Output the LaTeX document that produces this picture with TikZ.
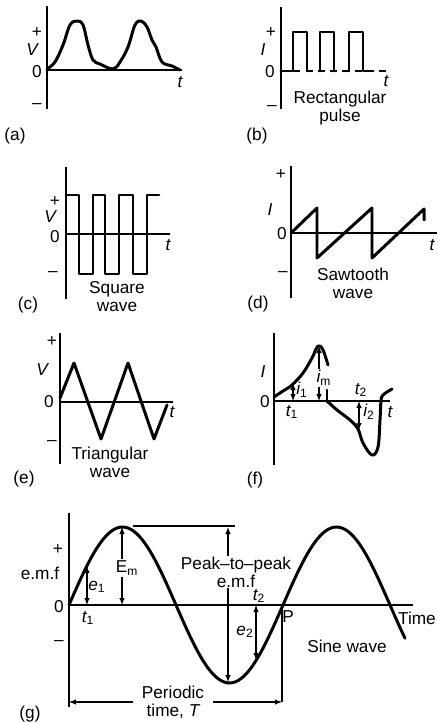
\documentclass[tikz,border=0pt]{standalone}
\usepackage{fontspec}
\setmainfont{Liberation Sans}
\usetikzlibrary{arrows.meta}

\begin{document}
\begin{tikzpicture}[
    x=0.02cm, y=-0.02cm,
    axis/.style={line width=1.1pt},
    wave/.style={line width=1.7pt, line join=round, line cap=round},
    dim/.style={{Latex[length=1.4mm,width=1.1mm]}-{Latex[length=1.4mm,width=1.1mm]}, line width=0.6pt},
    lbl/.style={inner sep=0pt, font=\fontsize{9.8}{11}\selectfont},
    wavename/.style={lbl, align=center, font=\fontsize{9.8}{10.2}\selectfont},
]
\useasboundingbox (0,0) rectangle (438,723);

% (a) general waveform
\draw[axis] (47,6) -- (47,109);
\draw[axis] (47,70) -- (182,70);
\node[lbl] (plusa) at (37,33) {+};
\node[lbl] (va) at (32,50) {\itshape V};
\node[lbl] (zeroa) at (37,72) {0};
\node[lbl] (minusa) at (37,106) {--};
\node[lbl] (ta) at (180,82) {\itshape t};
\node[lbl] (capa) at (15,136) {(a)};
\draw[wave] plot[smooth, tension=0.6] coordinates {(47,69) (55,62) (63,45) (70,25) (77,21) (83,25) (88,45) (93,60) (100,64) (113,69) (120,62) (128,47) (135,25) (141,21) (147,27) (152,40) (156,47) (162,62) (172,66) (180,70)};

% (b) rectangular pulse
\draw[axis] (281,7) -- (281,109);
\draw[axis, dash pattern=on 4pt off 3pt] (281,71) -- (391,71);
\node[lbl] (plusb) at (271,33) {+};
\node[lbl] (ib) at (263,50) {\itshape I};
\node[lbl] (zerob) at (270,72) {0};
\node[lbl] (minusb) at (272,108) {--};
\node[lbl] (tb) at (386,81) {\itshape t};
\node[wavename] (nameb) at (340,108) {Rectangular\\pulse};
\node[lbl] (capb) at (257,136) {(b)};
\draw[wave] (281,71) -- (293,71) -- (293,32) -- (307,32) -- (307,71);
\draw[wave] (320,71) -- (320,32) -- (334,32) -- (334,71);
\draw[wave] (349,71) -- (349,32) -- (363,32) -- (363,71) -- (373,71);

% (c) square wave
\draw[axis] (66,167) -- (66,299);
\draw[axis] (66,234) -- (170,234);
\node[lbl] (plusc) at (55,202) {+};
\node[lbl] (vc) at (50,217) {\itshape V};
\node[lbl] (zeroc) at (55,237) {0};
\node[lbl] (minusc) at (53,274) {--};
\node[lbl] (tc) at (168,245) {\itshape t};
\node[wavename] (namec) at (117,297) {Square\\wave};
\node[lbl] (capc) at (28,305) {(c)};
\draw[wave] (66,195) -- (79,195) -- (79,274) -- (93,274) -- (93,195) -- (105,195) -- (105,274) -- (119,274) -- (119,195) -- (133,195) -- (133,274) -- (147,274) -- (147,195) -- (159,195);

% (d) sawtooth wave
\draw[axis] (291,166) -- (291,298);
\draw[axis] (291,233) -- (437,233);
\node[lbl] (plusd) at (281,175) {+};
\node[lbl] (id) at (270,210) {\itshape I};
\node[lbl] (zerod) at (282,234) {0};
\node[lbl] (minusd) at (283,274) {--};
\node[lbl] (td) at (432,245) {\itshape t};
\node[wavename] (named) at (353,283) {Sawtooth\\wave};
\node[lbl] (capd) at (258,304) {(d)};
\draw[wave] (291,233) -- (317,208) -- (317,258) -- (372,208) -- (372,258) -- (424,209) -- (424,220);

% (e) triangular wave
\draw[axis] (60,333) -- (60,464);
\draw[axis] (60,402) -- (173,402);
\node[lbl] (pluse) at (52,342) {+};
\node[lbl] (ve) at (42,370) {\itshape V};
\node[lbl] (zeroe) at (49,402) {0};
\node[lbl] (minuse) at (52,443) {--};
\node[lbl] (te) at (172,412) {\itshape t};
\node[wavename] (namee) at (110,462) {Triangular\\wave};
\node[lbl] (cape) at (24,479) {(e)};
\draw[wave] (60,398) -- (74,363) -- (101,439) -- (128,363) -- (154,439) -- (167,405);

% (f) complex waveform
\draw[axis] (274,333) -- (274,465);
\draw[axis] (274,401) -- (390,401);
\node[lbl] (if) at (263,372) {\itshape I};
\node[lbl] (zerof) at (265,402) {0};
\node[lbl] (tf) at (390,412) {\itshape t};
\node[lbl] (capf) at (255,480) {(f)};
\coordinate (t1f) at (293,401);
\coordinate (c1f) at (293,383);
\coordinate (tmf) at (319,401);
\coordinate (cmf) at (319,346);
\coordinate (t2f) at (359,401);
\coordinate (c2f) at (359,430);
\draw[dim] (t1f) -- (c1f);
\draw[dim] (tmf) -- (cmf);
\draw[dim] (t2f) -- (c2f);
\node[lbl] (i1f) at (302,390) {\itshape i\textsubscript{\upshape 1}};
\node[lbl, fill=white, inner sep=1pt] (imf) at (324,378) {\itshape i\textsubscript{\upshape m}};
\node[lbl, fill=white, inner sep=1pt] (i2f) at (369,412) {\itshape i\textsubscript{\upshape 2}};
\node[lbl] (t1lf) at (292,412) {\itshape t\textsubscript{\upshape 1}};
\node[lbl] (t2lf) at (361,390) {\itshape t\textsubscript{\upshape 2}};
\draw[wave] plot[smooth, tension=0.6] coordinates {(274,397) (283,391) (292,385) (303,373) (312,358) (318,346) (323,350) (328,365)};
\draw[wave] (327,390) -- (327,401);
\draw[wave] plot[smooth, tension=0.6] coordinates {(327,401) (337,410) (350,420) (358,429) (363,443) (372,455) (378,447) (380,420) (381,401) (383,395) (392,389)};

% (g) sine wave
\draw[axis] (69,513) -- (69,707);
\draw[axis] (69,605) -- (413,605);
\node[lbl] (plusg) at (58,550) {+};
\node[lbl] (emfg) at (40,573) {e.m.f};
\node[lbl] (zerog) at (59,607) {0};
\node[lbl] (minusg) at (59,643) {--};
\node[lbl] (timeg) at (417,618) {Time};
\node[lbl] (pg) at (288,617) {P};
\node[lbl] (nameg) at (347,646) {Sine wave};
\node[lbl] (capg) at (30,714) {(g)};
\coordinate (t1g) at (87,605);
\coordinate (c1g) at (87,566);
\coordinate (tmg) at (122,605);
\coordinate (cmg) at (122,527);
\coordinate (ptop) at (228,527);
\coordinate (pbot) at (228,682);
\coordinate (t2g) at (256,605);
\coordinate (c2g) at (256,660);
\coordinate (pstart) at (69,702);
\coordinate (pend) at (282,702);
\draw[line width=0.9pt] (133,526) -- (235,526);
\draw[dim] (t1g) -- (c1g);
\draw[dim] (tmg) -- (cmg);
\draw[dim] (ptop) -- (pbot);
\draw[dim] (t2g) -- (c2g);
\draw[line width=0.9pt] (282,605) -- (pend);
\draw[dim] (pstart) -- (pend);
\node[lbl] (e1g) at (97,587) {\itshape e\textsubscript{\upshape 1}};
\node[lbl] (t1lg) at (88,618) {\itshape t\textsubscript{\upshape 1}};
\node[lbl, fill=white, inner sep=1pt] (emg) at (127,568) {E\textsubscript{m}};
\node[wavename, fill=white, inner sep=0.5pt] (ppg) at (236,572) {Peak--to--peak\\e.m.f};
\node[lbl] (e2g) at (245,632) {\itshape e\textsubscript{\upshape 2}};
\node[lbl] (t2lg) at (259,596) {\itshape t\textsubscript{\upshape 2}};
\node[wavename, fill=white, inner xsep=5pt, inner ysep=0pt] (ptg) at (173,702) {Periodic\\time, \itshape T};
\draw[wave, domain=69:405, samples=120, smooth] plot (\x, {605 - 78*sin(1.68224*(\x-69))});

\end{tikzpicture}
\end{document}
